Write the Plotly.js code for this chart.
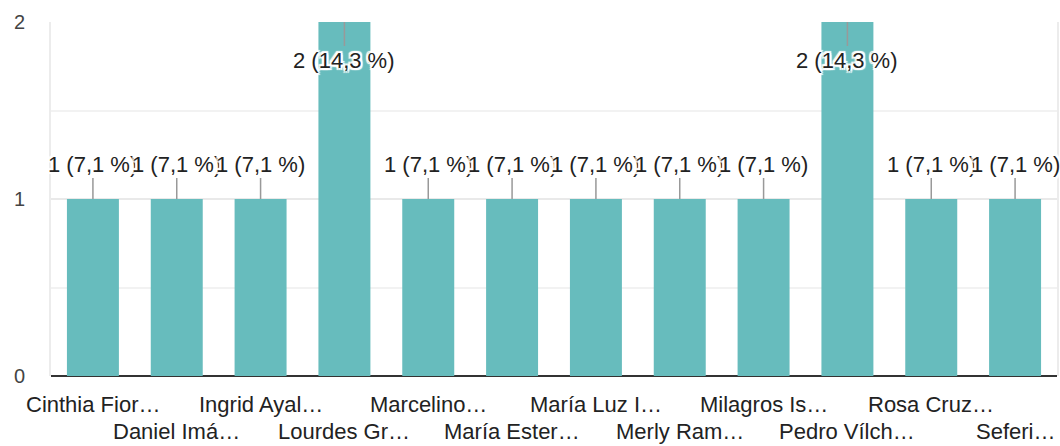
<!DOCTYPE html>
<html>
<head>
<meta charset="utf-8">
<script src="https://cdn.plot.ly/plotly-3.0.1.min.js"></script>
<style>
  html, body { margin: 0; padding: 0; background: #fff; }
  #chart { width: 1060px; height: 446px; }
</style>
</head>
<body>
<div id="chart"></div>
<script>
// answers per person (names are cut off in the source)
const names = [
  'Cinthia Fior…', 'Daniel Imá…', 'Ingrid Ayal…', 'Lourdes Gr…',
  'Marcelino…', 'María Ester…', 'María Luz I…', 'Merly Ram…',
  'Milagros Is…', 'Pedro Vílch…', 'Rosa Cruz…', 'Seferi…'
];
const counts = [1, 1, 1, 2, 1, 1, 1, 1, 1, 2, 1, 1];
const percents = ['7,1', '7,1', '7,1', '14,3', '7,1', '7,1', '7,1', '7,1', '7,1', '14,3', '7,1', '7,1'];

const maxCount = Math.max(...counts);
const FONT = 'Liberation Sans, Arial, sans-serif';
const halo = '-2px -2px 1px #fff, 2px -2px 1px #fff, -2px 2px 1px #fff, 2px 2px 1px #fff, 0 2px 1px #fff, 0 -2px 1px #fff, 2px 0 1px #fff, -2px 0 1px #fff';

const data = [{
  type: 'bar',
  x: names,
  y: counts,
  marker: { color: '#67bcbd' },
  width: 0.62,
  hoverinfo: 'none'
}];

// value labels with a small leader line
const valueLabels = names.map((n, i) => ({
  x: n,
  y: counts[i],
  xref: 'x',
  yref: 'y',
  text: counts[i] + ' (' + percents[i] + ' %)',
  showarrow: true,
  arrowhead: 0,
  arrowwidth: 1.5,
  arrowcolor: '#999',
  standoff: 0,
  ax: 0,
  ay: counts[i] === maxCount ? 38 : -35,
  font: { family: FONT, size: 22, color: '#222', shadow: halo }
}));

// category labels, staggered on two rows
const catLabels = names.map((n, i) => ({
  x: n,
  y: 0,
  xref: 'x',
  yref: 'paper',
  yanchor: 'top',
  yshift: i % 2 === 0 ? -14 : -41,
  text: n,
  showarrow: false,
  font: { family: FONT, size: 22, color: '#222' }
}));

const layout = {
  width: 1060,
  height: 446,
  margin: { l: 51, r: 3, t: 22, b: 70 },
  paper_bgcolor: '#fff',
  plot_bgcolor: '#fff',
  showlegend: false,
  xaxis: {
    type: 'category',
    range: [-0.5, names.length - 0.5],
    showticklabels: false,
    ticks: '',
    showgrid: false,
    showline: false,
    zeroline: false,
    fixedrange: true
  },
  yaxis: {
    range: [0, 2],
    tickvals: [0, 1, 2],
    ticks: '',
    ticklabelstandoff: 20,
    tickfont: { family: FONT, size: 20, color: '#444' },
    showgrid: true,
    gridcolor: '#e9e9e9',
    gridwidth: 2,
    minor: { dtick: 0.5, showgrid: true, gridcolor: '#f2f2f2', gridwidth: 2 },
    showline: true,
    linecolor: '#ececec',
    linewidth: 2,
    mirror: true,
    zeroline: true,
    zerolinecolor: '#333',
    zerolinewidth: 2,
    fixedrange: true
  },
  annotations: valueLabels.concat(catLabels)
};

Plotly.newPlot('chart', data, layout, { displayModeBar: false, staticPlot: true });
</script>
</body>
</html>
